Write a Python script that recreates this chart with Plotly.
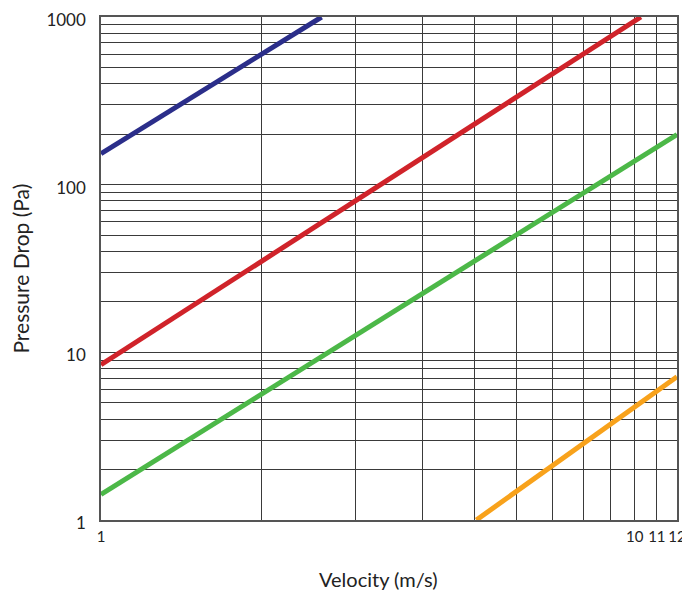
import plotly.graph_objects as go

# Data (velocity m/s, pressure drop Pa)
blue_x = [1.0, 2.59]
blue_y = [153.0, 1000.0]
red_x = [1.0, 10.27]
red_y = [8.44, 1000.0]
green_x = [1.0, 12.0]
green_y = [1.42, 199.0]
orange_x = [5.05, 12.0]
orange_y = [1.0, 7.15]

x_grid = [1, 2, 3, 4, 5, 6, 7, 8, 9, 10, 11, 12]
x_labels = ["1", "", "", "", "", "", "", "", "", "10", "11", "12"]
y_grid = [1, 2, 3, 4, 5, 6, 7, 8, 9, 10, 20, 30, 40, 50, 60, 70, 80, 90,
          100, 200, 300, 400, 500, 600, 700, 800, 900, 1000]
y_labels = ["1" if v == 1 else "10" if v == 10 else "100" if v == 100
            else "1000" if v == 1000 else "" for v in y_grid]

series = [
    (blue_x, blue_y, "#2b2e8a"),
    (red_x, red_y, "#d0232a"),
    (green_x, green_y, "#4cb848"),
    (orange_x, orange_y, "#f8a21b"),
]

fig = go.Figure()
for xs, ys, col in series:
    fig.add_trace(go.Scatter(x=xs, y=ys, mode="lines",
                             line=dict(color=col, width=5),
                             showlegend=False, hoverinfo="skip"))

font_family = "Lato, 'Open Sans', sans-serif"

# page body has an 8px default margin; size figure to fit the window
fig.update_layout(
    width=682, height=587,
    margin=dict(l=93, r=13, t=9, b=75),
    paper_bgcolor="white", plot_bgcolor="white",
    font=dict(family=font_family, size=15, color="#222"),
    xaxis=dict(
        type="log", range=[0, 1.0791812], tickmode="array",
        tickvals=x_grid, ticktext=x_labels, automargin=False,
        ticklabeloverflow="allow",
        showgrid=True, gridcolor="#3a3a3a", gridwidth=1,
        showline=True, linecolor="#555", linewidth=1.5, mirror=True,
        ticks="outside", ticklen=2, tickcolor="rgba(0,0,0,0)",
        tickfont=dict(size=15),
    ),
    yaxis=dict(
        type="log", range=[0, 3], tickmode="array",
        tickvals=y_grid, ticktext=y_labels, automargin=False,
        ticklabeloverflow="allow", ticklabelshift=3,
        showgrid=True, gridcolor="#3a3a3a", gridwidth=1,
        showline=True, linecolor="#555", linewidth=1.5, mirror=True,
        ticks="outside", ticklen=10, tickcolor="rgba(0,0,0,0)",
        tickfont=dict(size=17),
    ),
    annotations=[
        dict(text="Velocity (m/s)", xref="paper", yref="paper",
             x=0.481, y=-0.118, xanchor="center", yanchor="middle",
             showarrow=False, font=dict(size=20, color="#222")),
        dict(text="Pressure Drop (Pa)", xref="paper", yref="paper",
             x=-0.1405, y=0.5, xanchor="center", yanchor="middle",
             textangle=-90, showarrow=False,
             font=dict(size=21, color="#222")),
    ],
)

fig.write_html("out.html")
